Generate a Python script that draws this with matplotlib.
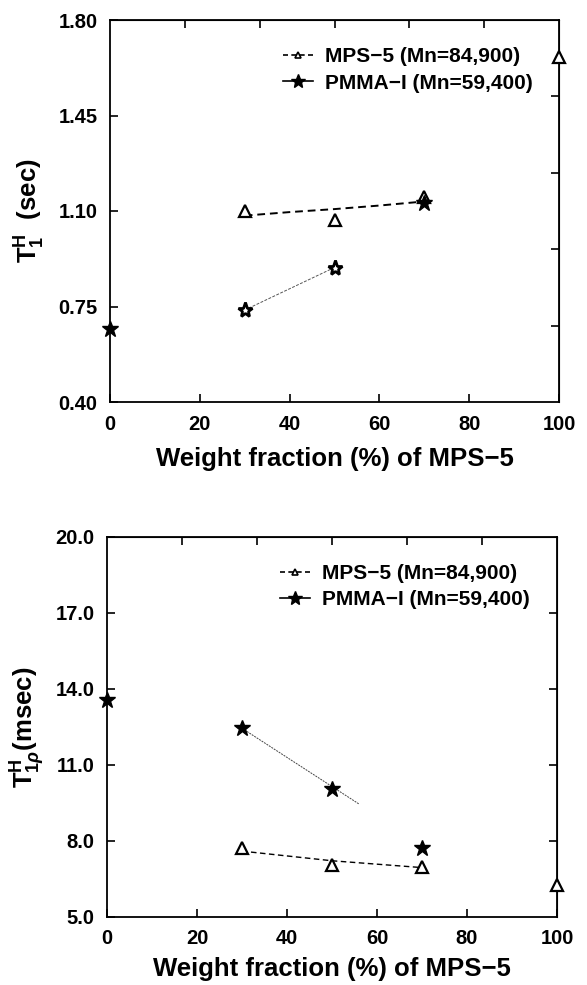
import numpy as np
import matplotlib
matplotlib.use("Agg")
import matplotlib.pyplot as plt
from matplotlib.lines import Line2D

plt.rcParams['font.family'] = ['Liberation Sans', 'DejaVu Sans']
plt.rcParams['font.weight'] = 'bold'
plt.rcParams['mathtext.fontset'] = 'custom'
plt.rcParams['mathtext.rm'] = 'Liberation Sans:bold'
plt.rcParams['mathtext.it'] = 'Liberation Sans:italic:bold'
plt.rcParams['mathtext.bf'] = 'Liberation Sans:bold'

# ---------------- data ----------------
x_ticks = [0, 20, 40, 60, 80, 100]
x_label = "Weight fraction (%) of MPS\u22125"
legend_mps = "MPS\u22125 (Mn=84,900)"
legend_pmma = "PMMA\u2212I (Mn=59,400)"

# Top panel: T1H (sec)
t1_yticks = [0.40, 0.75, 1.10, 1.45, 1.80]
t1_mps_x = [30, 50, 70, 100]
t1_mps_y = [1.10, 1.067, 1.152, 1.665]
t1_mps_fit_x = [30, 40, 50, 60, 70]
t1_mps_fit_y = [1.083, 1.096, 1.107, 1.120, 1.135]
t1_pmma_x = [0, 30, 50, 70]
t1_pmma_y = [0.668, 0.737, 0.891, 1.130]
t1_pmma_hollow = [False, True, True, False]
t1_pmma_fit_x = [30, 50]
t1_pmma_fit_y = [0.737, 0.893]

# Bottom panel: T1rhoH (msec)
t1r_yticks = [5.0, 8.0, 11.0, 14.0, 17.0, 20.0]
t1r_mps_x = [30, 50, 70, 100]
t1r_mps_y = [7.71, 7.05, 6.98, 6.25]
t1r_mps_fit_x = [30, 50, 70]
t1r_mps_fit_y = [7.60, 7.22, 6.95]
t1r_pmma_x = [0, 30, 50, 70]
t1r_pmma_y = [13.57, 12.45, 10.06, 7.74]
t1r_pmma_fit_x = [30, 50, 56]
t1r_pmma_fit_y = [12.45, 10.15, 9.46]

FS = 14.5
LFS = 18.5

fig = plt.figure(figsize=(5.87, 9.85), dpi=100)
ax1 = fig.add_axes([110/587, 1-402/985, 449/587, 382/985])
ax2 = fig.add_axes([107/587, 1-917/985, 450/587, 380/985])


def style_axes(ax, yticks, ylo, yhi, right_ticks, ylabel, yfmt, xlab_y, ylab_x):
    ax.set_xlim(0, 100)
    ax.set_ylim(ylo, yhi)
    ax.set_xticks(x_ticks)
    ax.set_xticklabels([str(v) for v in x_ticks], fontsize=FS, fontweight='bold')
    ax.set_yticks(yticks)
    ax.set_yticklabels([yfmt.format(v) for v in yticks], fontsize=FS, fontweight='bold')
    ax.tick_params(direction='in', length=6, width=1.2, pad=9, top=False, right=False)
    for s in ax.spines.values():
        s.set_linewidth(1.3)
    sx = ax.secondary_xaxis('top')
    sx.set_xticks(np.linspace(0, 100, 7)[1:-1])
    sx.set_xticklabels([])
    sx.tick_params(direction='in', length=6, width=1.2)
    sy = ax.secondary_yaxis('right')
    sy.set_yticks(right_ticks)
    sy.set_yticklabels([])
    sy.tick_params(direction='in', length=6, width=1.2)
    ax.set_xlabel(x_label, fontsize=LFS, fontweight='bold')
    ax.xaxis.set_label_coords(0.5, xlab_y)
    ax.set_ylabel(ylabel, fontsize=LFS, fontweight='bold')
    ax.yaxis.set_label_coords(ylab_x, 0.5)
    h1 = Line2D([], [], color='black', ls=(0, (3, 2)), lw=1.2, marker='^',
                mfc='white', mec='black', ms=5, mew=1.2)
    h2 = Line2D([], [], color='black', ls='-', lw=1.2, marker='*',
                mfc='black', mec='black', ms=10)
    ax.legend([h1, h2], [legend_mps, legend_pmma], loc='upper left',
              bbox_to_anchor=(0.385, 0.929), frameon=False,
              handlelength=1.45, handletextpad=0.55, labelspacing=0.36,
              borderpad=0, borderaxespad=0, numpoints=1,
              prop={'weight': 'bold', 'size': FS + 0.5})


# ---- top panel ----
style_axes(ax1, t1_yticks, 0.40, 1.80, np.linspace(0.40, 1.80, 6)[1:-1],
           r'$\mathrm{T}_{1}^{\mathrm{H}}$  (sec)', "{:.2f}", -0.118, -0.14)
ax1.plot(t1_mps_fit_x, t1_mps_fit_y, color='black', ls=(0, (4, 2.5)), lw=1.4)
ax1.plot(t1_pmma_fit_x, t1_pmma_fit_y, color='#555555', ls=(0, (3, 1.5)), lw=0.7)
ax1.plot(t1_mps_x, t1_mps_y, ls='none', marker='^', ms=8, mfc='white',
         mec='black', mew=1.6, clip_on=False, zorder=5)
hx = np.array(t1_pmma_x)
hy = np.array(t1_pmma_y)
hm = np.array(t1_pmma_hollow)
ax1.plot(hx[~hm], hy[~hm], ls='none', marker='*', ms=12, mfc='black',
         mec='black', clip_on=False, zorder=6)
ax1.plot(hx[hm], hy[hm], ls='none', marker='*', ms=11, mfc='white',
         mec='black', mew=2.0, clip_on=False, zorder=6)

# ---- bottom panel ----
style_axes(ax2, t1r_yticks, 5.0, 20.0, [8.0, 11.0, 14.0, 17.0],
           r'$\mathrm{T}_{1\rho}^{\mathrm{H}}$(msec)', "{:.1f}", -0.105, -0.133)
ax2.plot(t1r_mps_fit_x, t1r_mps_fit_y, color='black', ls=(0, (4, 2.5)), lw=1.0)
ax2.plot(t1r_pmma_fit_x, t1r_pmma_fit_y, color='#444444', ls=(0, (2, 1)), lw=0.7)
ax2.plot(t1r_mps_x, t1r_mps_y, ls='none', marker='^', ms=8, mfc='white',
         mec='black', mew=1.6, clip_on=False, zorder=5)
ax2.plot(t1r_pmma_x, t1r_pmma_y, ls='none', marker='*', ms=12, mfc='black',
         mec='black', clip_on=False, zorder=6)

fig.savefig("out.png", dpi=100)
